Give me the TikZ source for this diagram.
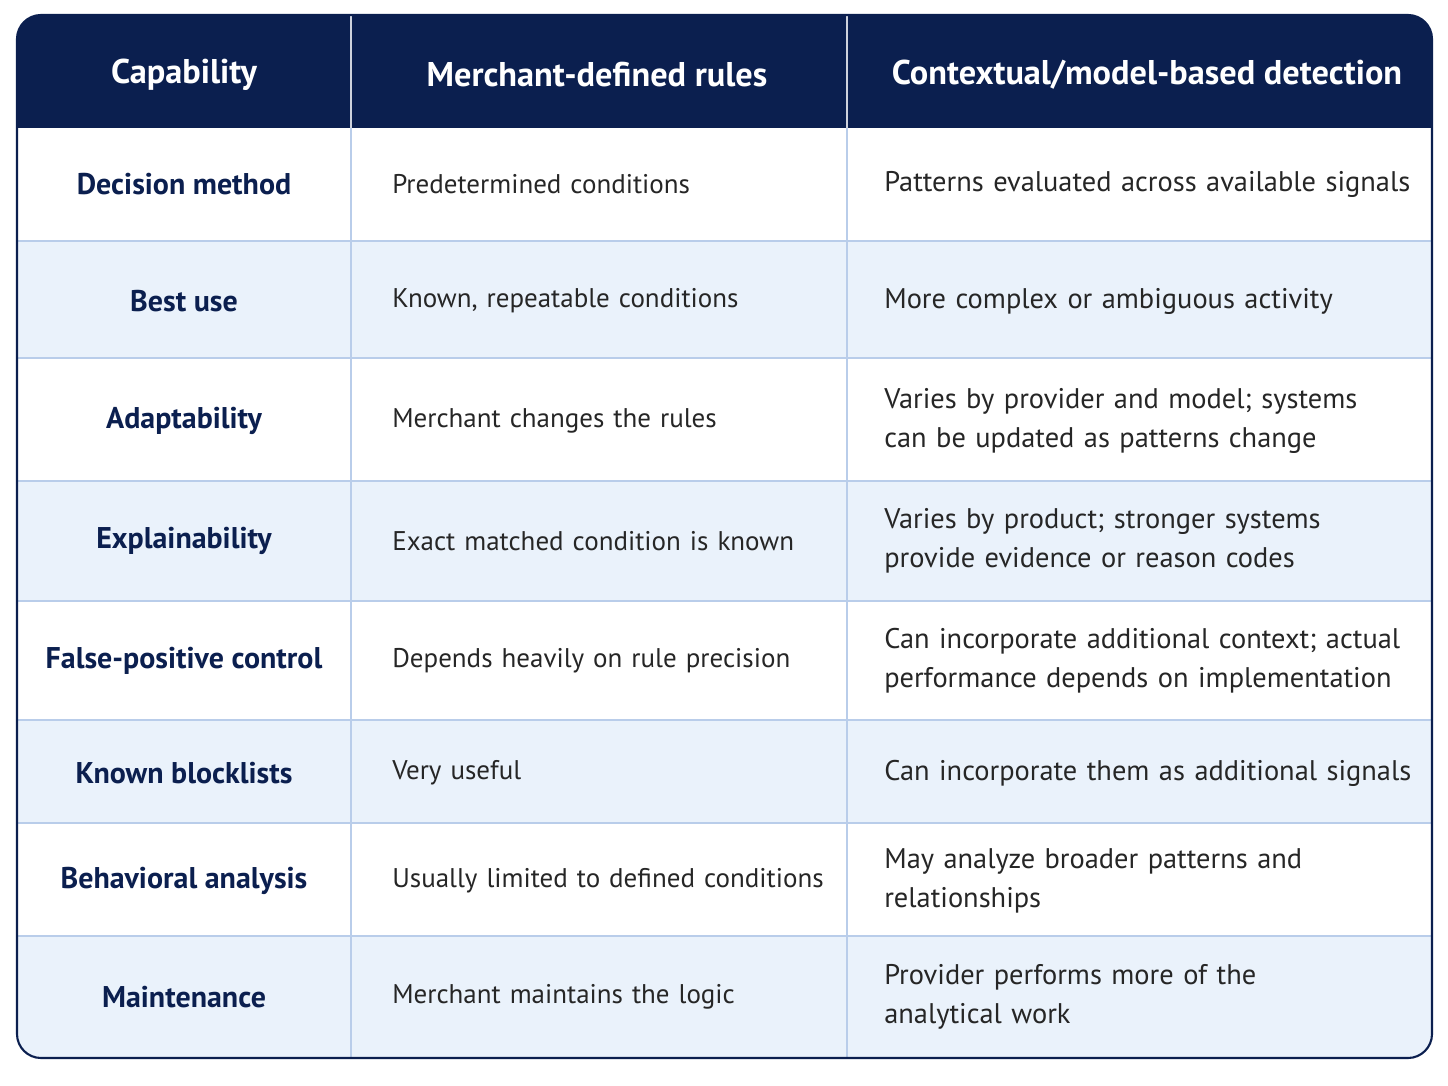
\documentclass[tikz,border=0pt]{standalone}
\usepackage{fontspec}
\setmainfont{PT Sans}
\definecolor{navy}{HTML}{0B1F4F}
\definecolor{rowblue}{HTML}{EAF2FB}
\definecolor{gridblue}{HTML}{B9CDEA}
\begin{document}
\begin{tikzpicture}
  [x=0.025cm,y=-0.025cm,
   head/.style={text=white,font=\fontsize{24.4}{28}\selectfont\bfseries,anchor=center},
   capcell/.style={text=navy,font=\fontsize{21.3}{25}\selectfont\bfseries,anchor=center},
   bodycell/.style={text=black!85,font=\fontsize{20.2}{28}\selectfont,anchor=west,
                    align=left,text width=13.6cm,inner sep=0pt},
   rulecell/.style={bodycell,font=\fontsize{19.2}{28}\selectfont}]
  \useasboundingbox (0,0) rectangle (1448,1086);
  % rows
  \begin{scope}
    \clip[rounded corners=0.6cm] (17,15) rectangle (1432,1058);
    \fill[white] (17,15) rectangle (1432,1058);
    \fill[navy] (17,15) rectangle (1432,128);
    \foreach \ya/\yb in {241/358,481/601,720/823,936/1058}
      \fill[rowblue] (17,\ya) rectangle (1432,\yb);
    \foreach \y in {241,358,481,601,720,823,936}
      \draw[gridblue,line width=1pt] (17,\y) -- (1432,\y);
    \draw[gridblue,line width=1pt] (351,128) -- (351,1058);
    \draw[gridblue,line width=1pt] (847,128) -- (847,1058);
    \draw[white!80!navy,line width=1pt] (351,15) -- (351,128);
    \draw[white!80!navy,line width=1pt] (847,15) -- (847,128);
  \end{scope}
  \draw[navy,line width=1.5pt,rounded corners=0.6cm] (17,15) rectangle (1432,1058);
  % header
  \node[head] (hcap) at (184,75) {Capability};
  \node[head] (hrule) at (597,75) {Merchant-defined rules};
  \node[head] (hmodel) at (1147,75) {Contextual/model-based detection};
  % body
  \foreach \i/\y/\cap/\rule/\model in {
      1/184/Decision method/Predetermined conditions/Patterns evaluated across available signals,
      2/301/Best use/{Known, repeatable conditions}/More complex or ambiguous activity,
      3/421/Adaptability/Merchant changes the rules/{Varies by provider and model; systems\\can be updated as patterns change},
      4/541/Explainability/Exact matched condition is known/{Varies by product; stronger systems\\provide evidence or reason codes},
      5/661/False-positive control/Depends heavily on rule precision/{Can incorporate additional context; actual\\performance depends on implementation},
      6/773/Known blocklists/Very useful/Can incorporate them as additional signals,
      7/881/Behavioral analysis/Usually limited to defined conditions/{May analyze broader patterns and\\relationships},
      8/997/Maintenance/Merchant maintains the logic/{Provider performs more of the\\analytical work}} {
    \node[capcell] (cap\i) at (184,\y) {\cap};
    \node[rulecell] (rule\i) at (392,\y) {\rule};
    \node[bodycell] (model\i) at (884,\y) {\model};
  }
\end{tikzpicture}
\end{document}
